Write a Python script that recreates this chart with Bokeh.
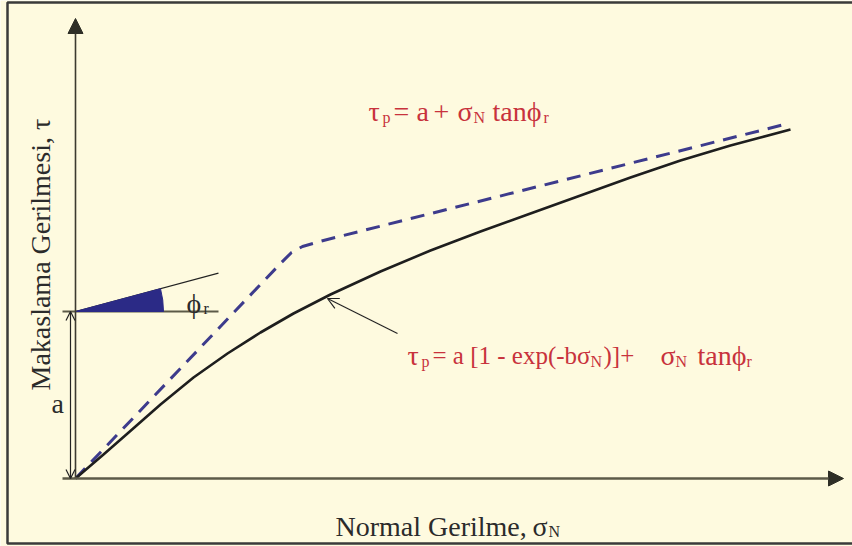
import math
from bokeh.plotting import figure
from bokeh.models import Range1d, Arrow, NormalHead, OpenHead
from bokeh.core.properties import value
from bokeh.embed import file_html
from bokeh.resources import INLINE

# Shear strength envelopes (stress units, origin at the corner of the axes)
sigma_curve = [0, 28, 52, 85, 118, 152, 185, 218, 255, 305, 355, 405, 455, 505, 555, 605, 655, 685, 715]
tau_curve = [0, 24, 45, 74, 101, 125, 146, 165, 184, 207, 228, 247, 265, 283, 301, 318, 333, 341, 349]

sigma_bilinear = [0, 205, 216, 227, 248, 713]
tau_bilinear = [0, 215, 226, 232, 238, 355]

cohesion_a = 167          # intercept a
phi_r_deg = 15            # residual friction angle
wedge_radius = 88
phi_line_len = 148

CREAM = "#FEFADF"
RED = "#C8323C"
INK = "#2B2B2B"
NAVY = "#3D3B8C"
SERIF = value("Liberation Serif")

p = figure(width=852, height=546, output_backend="svg", toolbar_location=None,
           x_range=Range1d(-75, 777), y_range=Range1d(-68, 478),
           x_axis_type=None, y_axis_type=None, min_border=0)
p.grid.visible = False
p.outline_line_color = None
p.background_fill_color = CREAM
p.border_fill_color = CREAM

# frame around the drawing
p.multi_line(xs=[[777, -68, -68, 777]], ys=[[476, 476, -65, -65]],
             line_color="#3A3A3A", line_width=2.5)

# axes with arrowheads
p.add_layout(Arrow(end=NormalHead(size=15, fill_color="#2E2E26", line_color="#2E2E26"),
                   x_start=0, y_start=0, x_end=0, y_end=460,
                   line_color="#3C3A30", line_width=1.6))
p.add_layout(Arrow(end=NormalHead(size=15, fill_color="#2E2E26", line_color="#2E2E26"),
                   x_start=-13, y_start=0, x_end=768, y_end=0,
                   line_color="#5C5A48", line_width=2.4))

# cohesion intercept: reference line, dimension arrow, friction wedge
phi_r = math.radians(phi_r_deg)
p.line(x=[-13, 143], y=[cohesion_a, cohesion_a], line_color="#5C5A48", line_width=1.8)
p.line(x=[0, phi_line_len * math.cos(phi_r)],
       y=[cohesion_a, cohesion_a + phi_line_len * math.sin(phi_r)],
       line_color="#222222", line_width=1.2)
p.wedge(x=[0], y=[cohesion_a], radius=wedge_radius, start_angle=0, end_angle=phi_r,
        fill_color="#2B2A86", line_color="#2B2A86")
p.add_layout(Arrow(start=OpenHead(size=9, line_color="#222222", line_width=1.2),
                   end=OpenHead(size=9, line_color="#222222", line_width=1.2),
                   x_start=-5, y_start=0, x_end=-5, y_end=cohesion_a,
                   line_color="#222222", line_width=1.2))

# envelopes
p.line(x=sigma_bilinear, y=tau_bilinear, line_color=NAVY, line_width=3, line_dash="14 9",
       line_join="round")
p.line(x=sigma_curve, y=tau_curve, line_color="#1E1E1E", line_width=2.6, line_join="round")

# leader to the curved envelope
p.add_layout(Arrow(end=OpenHead(size=11, line_color="#222222", line_width=1.2),
                   x_start=322, y_start=145, x_end=252, y_end=180,
                   line_color="#222222", line_width=1.2))


def runs(items, color, angle=0.0):
    p.text(x=[i[0] for i in items], y=[i[1] for i in items], text=[i[2] for i in items],
           text_font_size=[i[3] for i in items], text_font=SERIF, text_color=color,
           text_align="left", text_baseline="alphabetic", angle=angle)


BIG, MID, SUB = "28px", "25px", "16px"

# τp = a + σN tanφr
runs([(293, 367, "τ", BIG), (307, 361, "p", SUB), (318, 367, "=", BIG), (341, 367, "a", BIG),
      (358, 367, "+", BIG), (382, 367, "σ", BIG), (398, 361, "N", SUB),
      (417, 367, "tanϕ", BIG), (468, 361, "r", SUB)], RED)

# τp = a [1 - exp(-bσN)]+ σN tanφr
runs([(332, 123, "τ", BIG), (346, 117, "p", SUB), (357, 123, "= a [1 - exp(-bσ", MID),
      (515, 117, "N", SUB), (528, 123, ")]+", MID), (585, 123, "σ", BIG),
      (600, 117, "N", SUB), (622, 123, "tanϕ", BIG), (671, 117, "r", SUB)], RED)

# axis titles and small labels
runs([(260, -48, "Normal Gerilme,", BIG), (457, -48, "σ", BIG), (473, -53, "N", SUB)], INK)
runs([(-35, 88, "Makaslama Gerilmesi, τ", BIG)], INK, angle=math.pi / 2)
runs([(-24, 75, "a", BIG)], INK)
runs([(111, 175, "ϕ", BIG), (128, 170, "r", SUB)], INK)

open("out.html", "w").write(file_html(p, INLINE))
